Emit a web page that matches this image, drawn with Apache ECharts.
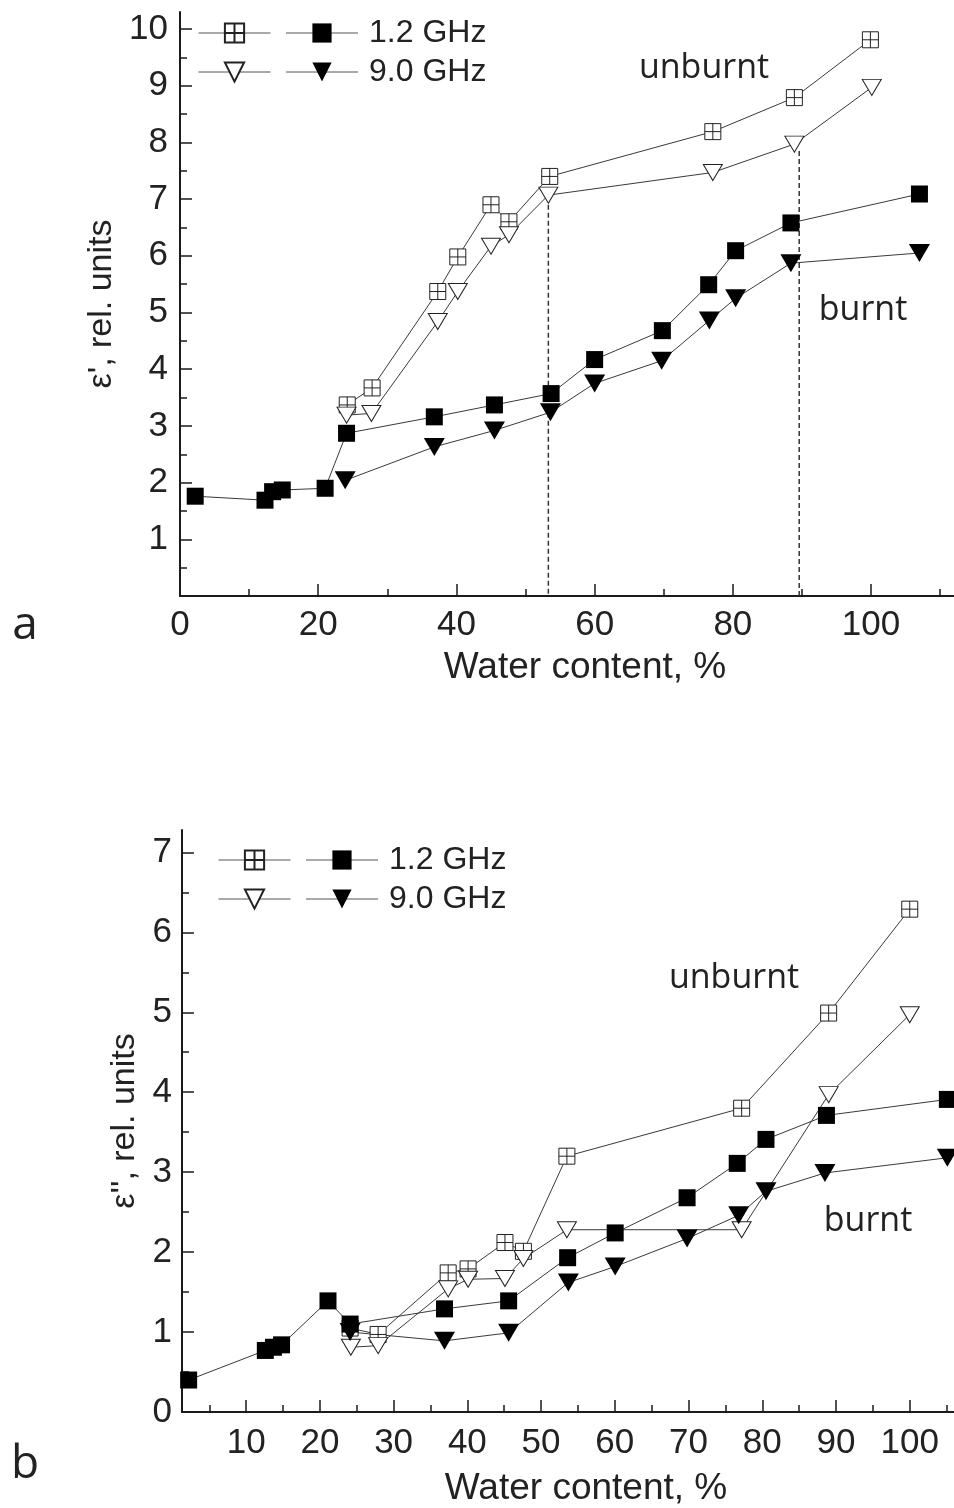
<!DOCTYPE html>
<html><head><meta charset="utf-8">
<script src="https://cdn.jsdelivr.net/npm/echarts@6/dist/echarts.min.js"></script>
<style>html,body{margin:0;padding:0;background:#fff}#c{width:954px;height:1508px}</style>
</head><body><div id="c"></div>
<script>
// ---------- Panel a : epsilon' ----------
const aUnburnt12 = [[24.2,3.37],[27.8,3.67],[37.3,5.37],[40.2,5.98],[45.0,6.9],[47.6,6.6],[53.5,7.4],[77.1,8.19],[88.9,8.79],[99.9,9.81]];
const aUnburnt90 = [[24.1,3.19],[27.7,3.22],[37.3,4.84],[40.2,5.37],[45.0,6.17],[47.6,6.37],[53.3,7.07],[77.1,7.47],[88.9,7.97],[100.1,8.97]];
const aBurnt12 = [[2.2,1.76],[12.3,1.69],[13.4,1.84],[14.8,1.87],[21.0,1.9],[24.1,2.87],[36.8,3.16],[45.5,3.37],[53.7,3.57],[60.0,4.17],[69.8,4.68],[76.5,5.49],[80.4,6.09],[88.4,6.58],[107.0,7.09]];
const aBurnt90 = [[23.9,2.04],[36.8,2.63],[45.5,2.92],[53.6,3.24],[60.0,3.75],[69.7,4.15],[76.6,4.86],[80.4,5.25],[88.4,5.87],[107.0,6.05]];
const aDashed1 = [[53.3,6.9],[53.3,0]];
const aDashed2 = [[89.6,7.85],[89.6,0]];
const aXLabels = [0,20,40,60,80,100];
const aXMinor = [10,30,50,70,90,110];
const aYLabels = [1,2,3,4,5,6,7,8,9,10];
const aYMinor = [0.5,1.5,2.5,3.5,4.5,5.5,6.5,7.5,8.5,9.5];

// ---------- Panel b : epsilon'' ----------
const bUnburnt12 = [[24.1,1.05],[27.9,0.97],[37.4,1.74],[40.1,1.79],[45.1,2.12],[47.6,2.01],[53.5,3.2],[77.2,3.8],[89.0,4.99],[100.0,6.29]];
const bUnburnt90 = [[24.2,0.81],[27.9,0.83],[37.4,1.54],[40.1,1.66],[45.1,1.67],[47.6,1.92],[53.5,2.28],[77.2,2.28],[89.0,3.97],[100.0,4.97]];
const bBurnt12 = [[2.2,0.4],[12.6,0.77],[13.7,0.81],[14.8,0.84],[21.1,1.39],[24.1,1.1],[36.9,1.29],[45.6,1.39],[53.6,1.93],[60.05,2.24],[69.8,2.68],[76.6,3.11],[80.5,3.41],[88.7,3.71],[105.1,3.91]];
const bBurnt90 = [[24.1,1.0],[36.9,0.89],[45.6,0.99],[53.7,1.62],[60.05,1.82],[69.8,2.17],[76.8,2.46],[80.5,2.76],[88.5,2.99],[105.1,3.18]];
const bXLabels = [10,20,30,40,50,60,70,80,90,100];
const bXMinor = [5,15,25,35,45,55,65,75,85,95,105];
const bYLabels = [0,1,2,3,4,5,6,7];
const bYMinor = [0.5,1.5,2.5,3.5,4.5,5.5,6.5];

const legendNames = ['1.2 GHz','9.0 GHz'];

const FONT = 'Liberation Sans';
const AX = '#1a1a1a';
const LINE = '#3a3a3a';
const CROSS = 'path://M0,0H16V16H0Z M8,0V16 M0,8H16';

function mainX(grid, min, max, labels, margin) {
  return {type:'value', gridIndex:grid, position:'bottom', min, max,
    axisLine:{show:true, onZero:false, lineStyle:{color:AX, width:2}},
    axisTick:{show:true, inside:true, length:12, customValues:labels, lineStyle:{color:AX, width:1.5}},
    axisLabel:{show:true, customValues:labels, margin, fontSize:35, fontFamily:FONT, color:'#222'},
    splitLine:{show:false}};
}
function minorX(grid, min, max, vals) {
  return {type:'value', gridIndex:grid, position:'bottom', min, max,
    axisLine:{show:false, onZero:false},
    axisTick:{show:true, inside:true, length:7, customValues:vals, lineStyle:{color:AX, width:1.5}},
    axisLabel:{show:false}, splitLine:{show:false}};
}
function mainY(grid, min, max, labels, ticks, margin) {
  return {type:'value', gridIndex:grid, position:'left', min, max,
    axisLine:{show:true, onZero:false, lineStyle:{color:AX, width:2}},
    axisTick:{show:true, inside:true, length:12, customValues:ticks, lineStyle:{color:AX, width:1.5}},
    axisLabel:{show:true, customValues:labels, margin, fontSize:35, fontFamily:FONT, color:'#222'},
    splitLine:{show:false}};
}
function minorY(grid, min, max, vals) {
  return {type:'value', gridIndex:grid, position:'left', min, max,
    axisLine:{show:false, onZero:false},
    axisTick:{show:true, inside:true, length:7, customValues:vals, lineStyle:{color:AX, width:1.5}},
    axisLabel:{show:false}, splitLine:{show:false}};
}
function ser(name, data, xi, yi, kind) {
  const s = {name, type:'line', data, xAxisIndex:xi, yAxisIndex:yi,
    lineStyle:{color:LINE, width:1}, emphasis:{disabled:true}, animation:false, z:3};
  if (kind === 'cross') { s.symbol = CROSS; s.symbolSize = 16; s.itemStyle = {color:'#fff', borderColor:'#222', borderWidth:1}; }
  if (kind === 'otri') { s.symbol = 'triangle'; s.symbolRotate = 180; s.symbolSize = [19,16]; s.itemStyle = {color:'#fff', borderColor:'#222', borderWidth:1}; }
  if (kind === 'sq') { s.symbol = 'rect'; s.symbolSize = 17; s.itemStyle = {color:'#000', borderColor:'#000', borderWidth:0}; }
  if (kind === 'ftri') { s.symbol = 'triangle'; s.symbolRotate = 180; s.symbolSize = [21,18]; s.itemStyle = {color:'#000', borderColor:'#000', borderWidth:0}; }
  return s;
}
function dashed(data, xi, yi) {
  return {type:'line', data, xAxisIndex:xi, yAxisIndex:yi, symbol:'none', silent:true, animation:false, z:2,
    lineStyle:{color:'#333', width:1.5, type:[5,3]}};
}
function legendRow(left, top, open, filled, label) {
  return {left, top, orient:'horizontal', padding:0, itemGap:4, itemWidth:72, itemHeight:24,
    selectedMode:false, data:[open, filled],
    lineStyle:{color:'#555', width:1},
    formatter:function(n){ return n === filled ? label : ''; },
    textStyle:{fontSize:32, fontFamily:FONT, color:'#222', lineHeight:32, padding:[0,0,0,6]}};
}

const option = {
  backgroundColor:'#fff',
  animation:false,
  grid:[
    {left:180, top:12, width:775, height:584},
    {left:182, top:830, width:772, height:583}
  ],
  xAxis:[
    Object.assign(mainX(0, 0, 112, aXLabels, 12), {name:'Water content, %', nameLocation:'middle', nameGap:53,
      nameTextStyle:{fontSize:37, fontFamily:FONT, color:'#222', padding:[0,0,0,36]}}),
    minorX(0, 0, 112, aXMinor),
    Object.assign(mainX(1, 1.3, 106, bXLabels, 14), {name:'Water content, %', nameLocation:'middle', nameGap:58,
      nameTextStyle:{fontSize:37, fontFamily:FONT, color:'#222', padding:[0,0,0,36]}}),
    minorX(1, 1.3, 106, bXMinor)
  ],
  yAxis:[
    Object.assign(mainY(0, 0, 10.3, aYLabels, aYLabels, 12), {name:"ε', rel. units", nameLocation:'middle', nameGap:51,
      nameTextStyle:{fontSize:34, fontFamily:FONT, color:'#222'}}),
    minorY(0, 0, 10.3, aYMinor),
    Object.assign(mainY(1, 0, 7.28, bYLabels, bYLabels, 10), {name:"ε'', rel. units", nameLocation:'middle', nameGap:37,
      nameTextStyle:{fontSize:34, fontFamily:FONT, color:'#222'}}),
    minorY(1, 0, 7.28, bYMinor)
  ],
  legend:[
    legendRow(198, 17, 'a unburnt 1.2 GHz', 'a burnt 1.2 GHz', legendNames[0]),
    legendRow(198, 56, 'a unburnt 9.0 GHz', 'a burnt 9.0 GHz', legendNames[1]),
    legendRow(218, 844, 'b unburnt 1.2 GHz', 'b burnt 1.2 GHz', legendNames[0]),
    legendRow(218, 883, 'b unburnt 9.0 GHz', 'b burnt 9.0 GHz', legendNames[1])
  ],
  series:[
    dashed(aDashed1, 0, 0),
    dashed(aDashed2, 0, 0),
    ser('a unburnt 1.2 GHz', aUnburnt12, 0, 0, 'cross'),
    ser('a unburnt 9.0 GHz', aUnburnt90, 0, 0, 'otri'),
    ser('a burnt 1.2 GHz', aBurnt12, 0, 0, 'sq'),
    ser('a burnt 9.0 GHz', aBurnt90, 0, 0, 'ftri'),
    ser('b unburnt 1.2 GHz', bUnburnt12, 2, 2, 'cross'),
    ser('b unburnt 9.0 GHz', bUnburnt90, 2, 2, 'otri'),
    ser('b burnt 1.2 GHz', bBurnt12, 2, 2, 'sq'),
    ser('b burnt 9.0 GHz', bBurnt90, 2, 2, 'ftri')
  ],
  graphic:[
    {type:'text', x:704, y:68, style:{text:'unburnt', font:'34px "Open Sans"', fill:'#222', align:'center', verticalAlign:'middle'}},
    {type:'text', x:863, y:310, style:{text:'burnt', font:'34px "Open Sans"', fill:'#222', align:'center', verticalAlign:'middle'}},
    {type:'text', x:734, y:978, style:{text:'unburnt', font:'34px "Open Sans"', fill:'#222', align:'center', verticalAlign:'middle'}},
    {type:'text', x:868, y:1221, style:{text:'burnt', font:'34px "Open Sans"', fill:'#222', align:'center', verticalAlign:'middle'}},
    {type:'text', x:25, y:626, style:{text:'a', font:'46px "Open Sans"', fill:'#222', align:'center', verticalAlign:'middle'}},
    {type:'text', x:25, y:1465, style:{text:'b', font:'46px "Open Sans"', fill:'#222', align:'center', verticalAlign:'middle'}}
  ]
};
const chart = echarts.init(document.getElementById('c'), null, {renderer:'canvas'});
chart.setOption(option);
</script>
</body></html>
